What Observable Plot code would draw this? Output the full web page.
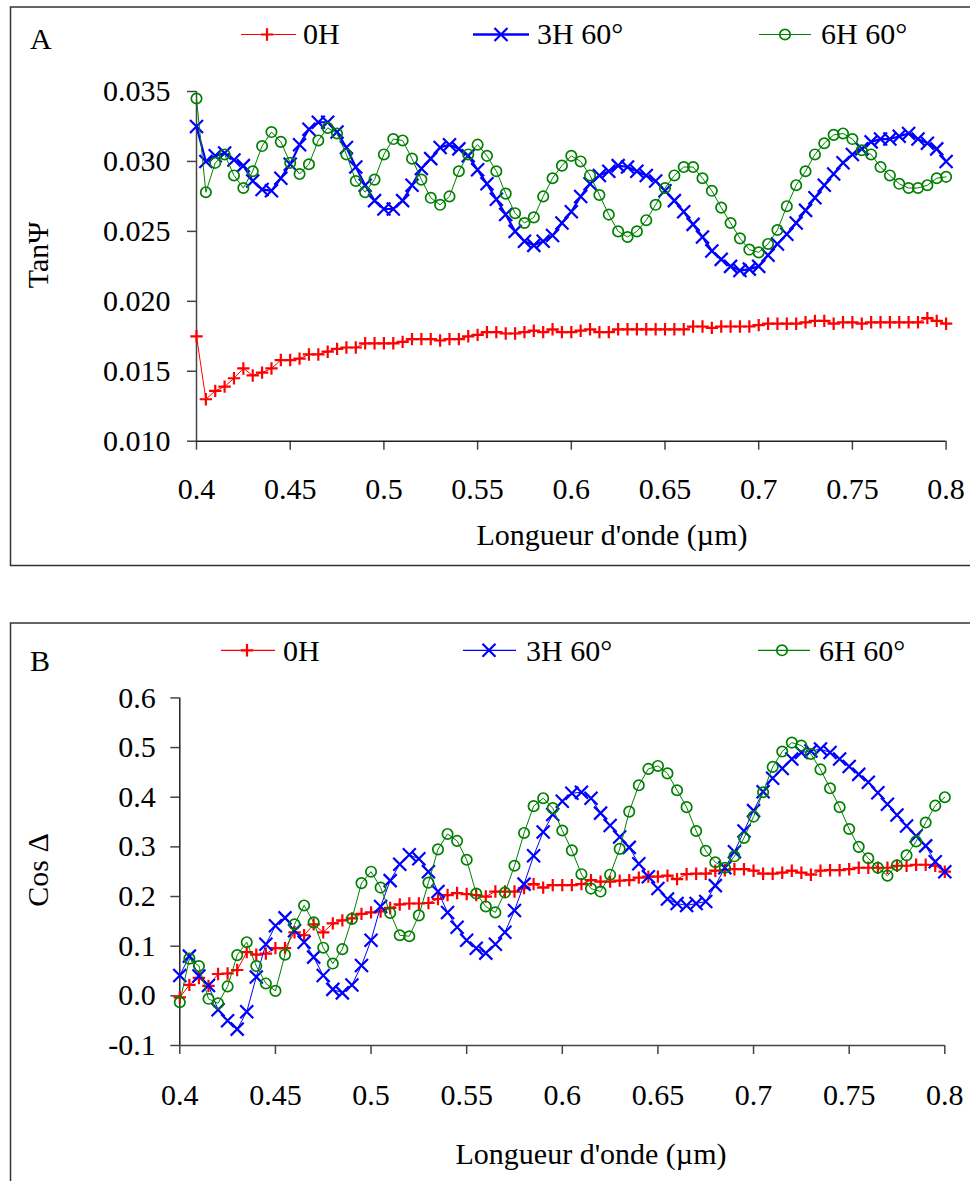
<!DOCTYPE html>
<html><head><meta charset="utf-8">
<script src="https://cdn.jsdelivr.net/npm/d3@7"></script>
<script src="https://cdn.jsdelivr.net/npm/@observablehq/plot@0.6"></script>
<style>
body{margin:0;background:#fff;}
#wrap{position:relative;width:970px;height:1181px;overflow:hidden;background:#fff;}
#panelA,#panelB{position:absolute;left:0;}
#panelA{top:0;} #panelB{top:590px;}
</style></head><body>
<div id="wrap"><div id="panelA"></div><div id="panelB"></div></div>
<script>
// ---------- DATA ----------
const wavelength = [
 0.4,0.405,0.41,0.415,0.42,0.425,0.43,0.435,0.44,0.445,
 0.45,0.455,0.46,0.465,0.47,0.475,0.48,0.485,0.49,0.495,
 0.5,0.505,0.51,0.515,0.52,0.525,0.53,0.535,0.54,0.545,
 0.55,0.555,0.56,0.565,0.57,0.575,0.58,0.585,0.59,0.595,
 0.6,0.605,0.61,0.615,0.62,0.625,0.63,0.635,0.64,0.645,
 0.65,0.655,0.66,0.665,0.67,0.675,0.68,0.685,0.69,0.695,
 0.7,0.705,0.71,0.715,0.72,0.725,0.73,0.735,0.74,0.745,
 0.75,0.755,0.76,0.765,0.77,0.775,0.78,0.785,0.79,0.795,
 0.8];
const seriesNames = ["0H", "3H 60°", "6H 60°"];

// Panel A : Tan Psi
const tanPsi_0H = [
 0.0175,0.0130,0.0136,0.0139,0.0145,0.0152,0.0147,0.0149,0.0152,0.0158,0.0158,0.0159,0.0162,0.0162,0.0164,0.0166,0.0167,0.0167,0.0170,0.0170,0.0170,0.0170,0.0171,0.0173,0.0173,0.0173,0.0172,
 0.0173,0.0173,0.0175,0.0176,0.0178,0.0178,0.0177,0.0177,0.0178,0.0179,0.0178,0.0180,0.0178,0.0178,0.0179,0.0180,0.0178,0.0178,0.0180,0.0180,0.0180,0.0180,0.0180,0.0180,0.0180,0.0180,0.0182,0.0182,
 0.0181,0.0182,0.0182,0.0182,0.0182,0.0183,0.0184,0.0184,0.0184,0.0184,0.0185,0.0186,0.0186,0.0184,0.0185,0.0185,0.0184,0.0185,0.0185,0.0185,0.0185,0.0185,0.0185,0.0188,0.0186,0.0184];
const tanPsi_3H = [
 0.0325,0.0300,0.0304,0.0306,0.0301,0.0297,0.0286,0.0280,0.0279,0.0288,0.0298,0.0312,0.0323,0.0328,0.0328,0.0321,0.0310,0.0296,0.0283,0.0272,0.0266,0.0266,0.0272,0.0283,0.0295,0.0302,0.0310,
 0.0312,0.0309,0.0304,0.0294,0.0284,0.0273,0.0262,0.0250,0.0243,0.0240,0.0243,0.0247,0.0256,0.0264,0.0275,0.0284,0.0290,0.0293,0.0297,0.0296,0.0293,0.0290,0.0286,0.0279,0.0272,0.0264,0.0255,0.0246,
 0.0236,0.0230,0.0225,0.0222,0.0223,0.0225,0.0233,0.0241,0.0248,0.0256,0.0265,0.0274,0.0283,0.0291,0.0299,0.0305,0.0309,0.0314,0.0316,0.0316,0.0318,0.0320,0.0316,0.0313,0.0309,0.0300];
const tanPsi_6H = [
 0.0345,0.0278,0.0299,0.0305,0.0290,0.0281,0.0293,0.0311,0.0321,0.0314,0.0299,0.0291,0.0298,0.0315,0.0324,0.0320,0.0305,0.0286,0.0278,0.0287,0.0305,0.0316,0.0315,0.0302,0.0287,0.0274,0.0269,
 0.0275,0.0293,0.0305,0.0312,0.0304,0.0293,0.0277,0.0263,0.0256,0.0260,0.0275,0.0288,0.0297,0.0304,0.0300,0.0290,0.0276,0.0262,0.0250,0.0246,0.0250,0.0258,0.0269,0.0281,0.0290,0.0296,0.0296,0.0288,
 0.0279,0.0267,0.0256,0.0245,0.0237,0.0235,0.0241,0.0251,0.0268,0.0283,0.0293,0.0305,0.0313,0.0319,0.0320,0.0316,0.0308,0.0305,0.0296,0.0290,0.0284,0.0281,0.0281,0.0283,0.0288,0.0289];

// Panel B : Cos Delta
const cosDelta_0H = [
 -0.003,0.022,0.036,0.020,0.044,0.045,0.052,0.088,0.083,0.085,0.096,0.096,0.128,0.122,0.144,0.128,0.146,0.152,0.156,0.165,0.168,0.170,0.177,0.184,0.186,0.186,0.187,
 0.195,0.203,0.207,0.205,0.203,0.200,0.210,0.210,0.210,0.217,0.225,0.218,0.223,0.223,0.223,0.225,0.233,0.230,0.230,0.232,0.233,0.238,0.240,0.240,0.242,0.235,0.245,
 0.246,0.246,0.252,0.253,0.255,0.255,0.252,0.246,0.246,0.248,0.252,0.248,0.244,0.252,0.253,0.253,0.255,0.258,0.258,0.258,0.258,0.262,0.262,0.264,0.264,0.262,0.250];
const cosDelta_3H = [
 0.041,0.080,0.040,0.021,-0.028,-0.050,-0.067,-0.032,0.038,0.104,0.141,0.157,0.131,0.108,0.078,0.041,0.013,0.006,0.022,0.061,0.112,0.180,0.232,0.265,0.284,0.276,0.250,
 0.210,0.168,0.138,0.112,0.096,0.086,0.104,0.128,0.172,0.225,0.282,0.330,0.365,0.392,0.408,0.410,0.398,0.368,0.343,0.320,0.299,0.266,0.240,0.216,0.195,0.186,0.182,
 0.186,0.190,0.222,0.258,0.290,0.332,0.373,0.411,0.438,0.458,0.477,0.490,0.493,0.497,0.490,0.477,0.462,0.446,0.430,0.409,0.386,0.364,0.342,0.322,0.302,0.270,0.250];
const cosDelta_6H = [
 -0.013,0.075,0.060,-0.006,-0.015,0.019,0.082,0.108,0.060,0.025,0.010,0.083,0.144,0.182,0.148,0.097,0.065,0.094,0.155,0.227,0.250,0.218,0.167,0.122,0.120,0.162,0.228,
 0.295,0.326,0.312,0.274,0.206,0.180,0.168,0.208,0.262,0.328,0.382,0.398,0.378,0.333,0.293,0.245,0.216,0.210,0.244,0.296,0.371,0.424,0.457,0.463,0.448,0.414,0.380,
 0.332,0.292,0.269,0.258,0.281,0.318,0.361,0.410,0.461,0.492,0.510,0.504,0.487,0.456,0.418,0.380,0.336,0.300,0.277,0.258,0.242,0.263,0.283,0.311,0.349,0.383,0.400];

const xTicks = [0.4,0.45,0.5,0.55,0.6,0.65,0.7,0.75,0.8];
const yTicksA = [0.010,0.015,0.020,0.025,0.030,0.035];
const yTicksB = [-0.1,0.0,0.1,0.2,0.3,0.4,0.5,0.6];

// ---------- STYLE ----------
const FONT = "'Liberation Serif','Times New Roman',serif";
const COLORS = ["#FF0000", "#0000FF", "#008000"];
const SIZES = [6.2, 6.5, 5.2];
const plusSym = {draw(c, s){const r=Math.sqrt(s/Math.PI); c.moveTo(-r,0); c.lineTo(r,0); c.moveTo(0,-r); c.lineTo(0,r);}};
const timesSym = {draw(c, s){const r=Math.sqrt(s/Math.PI); c.moveTo(-r,-r); c.lineTo(r,r); c.moveTo(-r,r); c.lineTo(r,-r);}};
const circSym = {draw(c, s){const r=Math.sqrt(s/Math.PI); c.moveTo(r,0); c.arc(0,0,r,0,2*Math.PI);}};
const SYMS = [plusSym, timesSym, circSym];

function rowsOf(values){ return wavelength.map((w,i)=>({w, v: values[i]})); }

function seriesMarks(valuesList, lineWidths){
  const marks = [];
  valuesList.forEach((vals, k) => {
    const rows = rowsOf(vals);
    marks.push(Plot.line(rows, {x:"w", y:"v", stroke: COLORS[k], strokeWidth: lineWidths[k]}));
    marks.push(Plot.dot(rows, {x:"w", y:"v", symbol: SYMS[k], r: SIZES[k], fill:"none", stroke: COLORS[k], strokeWidth: k===2 ? 1.7 : 2.2}));
  });
  return marks;
}

function drawSym(g, k, x, y){
  const r = SIZES[k];
  if (k === 2) { g.append("circle").attr("cx",x).attr("cy",y).attr("r",r).attr("fill","none").attr("stroke",COLORS[k]).attr("stroke-width",1.7); return; }
  const d = k === 0 ? `M${x-r},${y}H${x+r}M${x},${y-r}V${y+r}`
                    : `M${x-r},${y-r}L${x+r},${y+r}M${x-r},${y+r}L${x+r},${y-r}`;
  g.append("path").attr("d",d).attr("fill","none").attr("stroke",COLORS[k]).attr("stroke-width",2.2);
}

function decorate(svg, cfg){
  const s = d3.select(svg);
  s.insert("rect", ":first-child").attr("x",10.5).attr("y",cfg.boxTop).attr("width",980).attr("height",cfg.boxH)
    .attr("fill","white").attr("stroke","#333").attr("stroke-width",1.5);
  const g = s.append("g").attr("font-family", FONT).attr("fill","black").attr("text-anchor","start");
  g.append("text").attr("x",30).attr("y",cfg.letterY).attr("font-size",30).attr("text-anchor","start").text(cfg.letter);
  cfg.legend.forEach((it, k) => {
    g.append("line").attr("x1",it.x1).attr("x2",it.x2).attr("y1",cfg.legY).attr("y2",cfg.legY)
      .attr("stroke",COLORS[k]).attr("stroke-width",cfg.legLW[k]);
    drawSym(g, k, it.m, cfg.legY);
    g.append("text").attr("x",it.tx).attr("y",cfg.legBase).attr("font-size",30).attr("text-anchor","start").text(seriesNames[k]);
  });
  g.append("text").attr("x",cfg.xTitleX).attr("y",cfg.xTitleY).attr("text-anchor","middle").attr("font-size",30)
    .text("Longueur d'onde (µm)");
  g.append("text").attr("transform",`translate(48,${cfg.yTitleY}) rotate(-90)`).attr("text-anchor","middle")
    .attr("font-size",30).text(cfg.yTitle);
}

const xFmt = d => String(+d.toFixed(2));

// ---------- PANEL A ----------
const plotA = Plot.plot({
  width: 970, height: 570,
  marginLeft: 196, marginRight: 24.4, marginTop: 91, marginBottom: 129.3,
  x: {domain: [0.4, 0.8]},
  y: {domain: [0.010, 0.035]},
  style: {fontFamily: FONT, fontSize: "30px", background: "transparent", color: "black", overflow: "visible"},
  marks: [
    Plot.axisX({ticks: xTicks, tickSize: 9, tickPadding: 27, tickFormat: xFmt, fontSize: 30, stroke: "#444", strokeWidth: 1.5, label: null}),
    Plot.axisY({ticks: yTicksA, tickSize: 9, tickPadding: 17, tickFormat: d3.format(".3f"), fontSize: 30, stroke: "#444", strokeWidth: 1.5, label: null}),
    Plot.ruleX([0.4], {stroke: "#444", strokeWidth: 1.5}),
    Plot.ruleY([0.010], {stroke: "#222", strokeWidth: 1.5}),
    ...seriesMarks([tanPsi_0H, tanPsi_3H, tanPsi_6H], [1, 2.2, 1])
  ]
});
decorate(plotA, {
  boxTop: 7, boxH: 558.5, letter: "A", letterY: 49,
  legY: 34.5, legBase: 44, legLW: [1.2, 2.5, 1.2],
  legend: [{x1:241,x2:296,m:267,tx:303},{x1:473,x2:529,m:501,tx:537},{x1:759,x2:811,m:785,tx:821}],
  xTitleX: 612, xTitleY: 545, yTitle: "TanΨ", yTitleY: 255
});
document.getElementById("panelA").appendChild(plotA);

// ---------- PANEL B ----------
const plotB = Plot.plot({
  width: 970, height: 591,
  marginLeft: 179.3, marginRight: 25.7, marginTop: 107.4, marginBottom: 136,
  x: {domain: [0.4, 0.8]},
  y: {domain: [-0.1, 0.6]},
  style: {fontFamily: FONT, fontSize: "30px", background: "transparent", color: "black", overflow: "visible"},
  marks: [
    Plot.axisX({ticks: xTicks, tickSize: 9, tickPadding: 28.7, tickFormat: xFmt, fontSize: 30, stroke: "#444", strokeWidth: 1.5, label: null}),
    Plot.axisY({ticks: yTicksB, tickSize: 9, tickPadding: 15, tickFormat: d => d.toFixed(1), fontSize: 30, stroke: "#444", strokeWidth: 1.5, label: null}),
    Plot.ruleX([0.4], {stroke: "#222", strokeWidth: 1.5}),
    Plot.ruleY([-0.1], {stroke: "#444", strokeWidth: 1.5}),
    ...seriesMarks([cosDelta_0H, cosDelta_3H, cosDelta_6H], [1, 1, 1])
  ]
});
decorate(plotB, {
  boxTop: 33, boxH: 620, letter: "B", letterY: 81,
  legY: 60.3, legBase: 71, legLW: [1.2, 1.2, 1.2],
  legend: [{x1:221,x2:275,m:247,tx:283},{x1:463,x2:516,m:489,tx:526},{x1:758,x2:810,m:782,tx:819}],
  xTitleX: 591, xTitleY: 574, yTitle: "Cos Δ", yTitleY: 280
});
document.getElementById("panelB").appendChild(plotB);
</script>
</body></html>
